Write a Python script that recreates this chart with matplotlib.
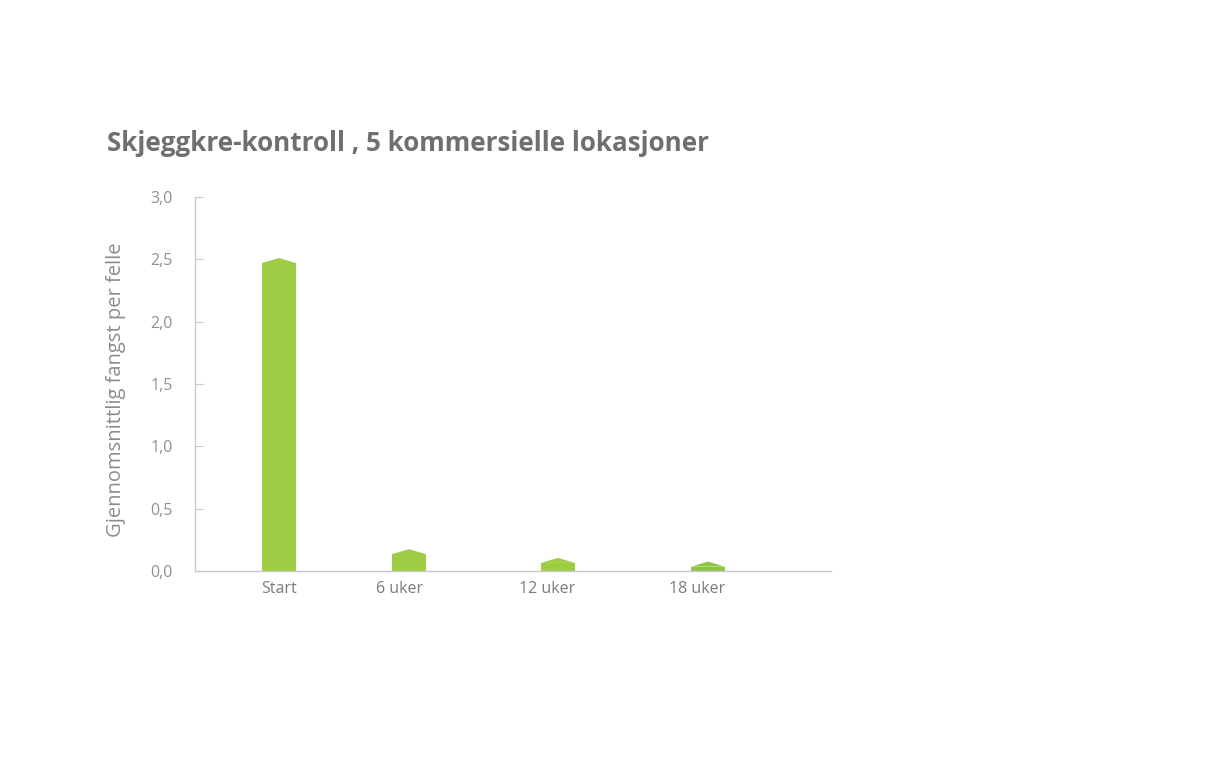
import matplotlib
matplotlib.use("Agg")
import matplotlib.pyplot as plt

# data
categories = ["Start", "6 uker", "12 uker", "18 uker"]
values = [2.47, 0.135, 0.065, 0.035]
yticks = [0.0, 0.5, 1.0, 1.5, 2.0, 2.5, 3.0]
ytick_labels = ["0,0", "0,5", "1,0", "1,5", "2,0", "2,5", "3,0"]

# layout (the original chart spaces bars a little unevenly)
bar_x = [0, 0.909, 1.951, 3.0]
label_x = [0, 0.846, 1.874, 2.923]
bar_colors = ["#9ecd45", "#9ecd45", "#9ecd45", "#8fc346"]
bar_w = 0.238
tip_h = 0.04

plt.rcParams["font.family"] = ["Open Sans", "DejaVu Sans"]

fig = plt.figure(figsize=(12.16, 7.6), dpi=100)
ax = fig.add_axes([0.1604, 0.2487, 0.523, 0.4921])

ax.bar(bar_x, values, width=bar_w, color=bar_colors, linewidth=0)
# pointed tops
for x, v, c in zip(bar_x, values, bar_colors):
    ax.fill([x - bar_w / 2, x, x + bar_w / 2], [v, v + tip_h, v],
            color=c, linewidth=0)

ax.set_xlim(-0.587, 3.86)
ax.set_ylim(0, 3.0)

ax.set_yticks(yticks)
ax.set_yticklabels(ytick_labels)
ax.set_xticks(label_x)
ax.set_xticklabels(categories)

grey = "#c9c9c9"
for s in ["top", "right"]:
    ax.spines[s].set_visible(False)
ax.spines["left"].set_color(grey)
ax.spines["bottom"].set_color(grey)
ax.spines["left"].set_linewidth(1.0)
ax.spines["bottom"].set_linewidth(1.0)

ax.tick_params(axis="y", direction="in", length=6, color=grey, pad=16,
               labelsize=11.5, labelcolor="#909090")
ax.tick_params(axis="x", length=0, pad=7, labelsize=11.5, labelcolor="#7c7c7c")

ax.set_ylabel("Gjennomsnittlig fangst per felle", fontsize=14.5,
              color="#8c8c8c")
ax.yaxis.set_label_coords(-0.108, 0.484)

fig.text(0.088, 0.811, "Skjeggkre-kontroll , 5 kommersielle lokasjoner",
         fontsize=18.7, fontweight="bold", color="#6f6f6f",
         va="center", ha="left")

fig.savefig("out.png", dpi=100, facecolor="white")
